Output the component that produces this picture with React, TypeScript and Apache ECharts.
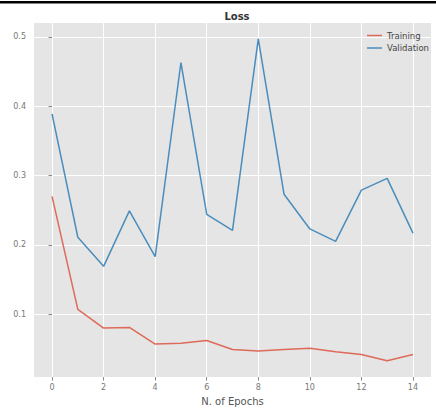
import React, { useEffect, useRef } from "react";
import * as echarts from "echarts";

const epochs = [0, 1, 2, 3, 4, 5, 6, 7, 8, 9, 10, 11, 12, 13, 14];
const training = [0.27, 0.107, 0.08, 0.081, 0.057, 0.058, 0.062, 0.049, 0.047, 0.049, 0.051, 0.046, 0.042, 0.033, 0.042];
const validation = [0.389, 0.211, 0.169, 0.249, 0.183, 0.463, 0.244, 0.221, 0.497, 0.273, 0.223, 0.205, 0.279, 0.296, 0.217];
const xTicks = [0, 2, 4, 6, 8, 10, 12, 14];
const yTicks = [0.1, 0.2, 0.3, 0.4, 0.5];

const RED = "#DE6A59";
const BLUE = "#4A8DBD";

export default function App() {
  const ref = useRef<HTMLDivElement>(null);
  useEffect(() => {
    const chart = echarts.init(ref.current!, null, { renderer: "svg" });
    const font = "DejaVu Sans";
    chart.setOption({
      animation: false,
      backgroundColor: "#ffffff",
      textStyle: { fontFamily: font },
      title: {
        text: "Loss",
        left: 232,
        textAlign: "center",
        top: 6,
        textStyle: { fontSize: 10, fontWeight: 600, color: "#333", fontFamily: font },
      },
      legend: {
        orient: "vertical",
        left: 362,
        top: 26,
        icon: "rect",
        itemWidth: 15,
        itemHeight: 1.5,
        itemGap: 3.5,
        textStyle: { fontSize: 8.5, color: "#444", fontFamily: font },
        data: ["Training", "Validation"],
      },
      grid: { left: 34, right: 5, top: 23, bottom: 29, backgroundColor: "#E5E5E5", show: true, borderWidth: 0 },
      xAxis: {
        type: "value",
        min: -0.7,
        max: 14.7,
        name: "N. of Epochs",
        nameLocation: "middle",
        nameGap: 17,
        nameTextStyle: { fontSize: 10, color: "#555", fontFamily: font },
        axisLine: { show: false },
        axisTick: { show: true, length: 3.5, lineStyle: { color: "#888" }, customValues: xTicks },
        axisLabel: { fontSize: 8, color: "#777", margin: 6, customValues: xTicks, formatter: (v: number) => String(v) },
        splitLine: { show: true, lineStyle: { color: "#ffffff", width: 1 } },
      },
      yAxis: {
        type: "value",
        min: 0.0093,
        max: 0.52,
        axisLine: { show: false },
        axisTick: { show: true, length: 3.5, lineStyle: { color: "#888" }, customValues: yTicks },
        axisLabel: { fontSize: 8, color: "#777", margin: 8, customValues: yTicks, formatter: (v: number) => v.toFixed(1) },
        splitLine: { show: true, lineStyle: { color: "#ffffff", width: 1 } },
      },
      series: [
        {
          name: "Training",
          type: "line",
          symbol: "none",
          data: epochs.map((e, i) => [e, training[i]]),
          lineStyle: { color: RED, width: 1.5 },
          itemStyle: { color: RED },
        },
        {
          name: "Validation",
          type: "line",
          symbol: "none",
          data: epochs.map((e, i) => [e, validation[i]]),
          lineStyle: { color: BLUE, width: 1.5 },
          itemStyle: { color: BLUE },
        },
      ],
      graphic: [
        { type: "rect", left: 0, top: 1, shape: { width: 436, height: 2.5 }, style: { fill: "#000" } },
      ],
    });
    return () => chart.dispose();
  }, []);
  return <div ref={ref} style={{ position: "fixed", left: 0, top: 0, width: 436, height: 411 }} />;
}
